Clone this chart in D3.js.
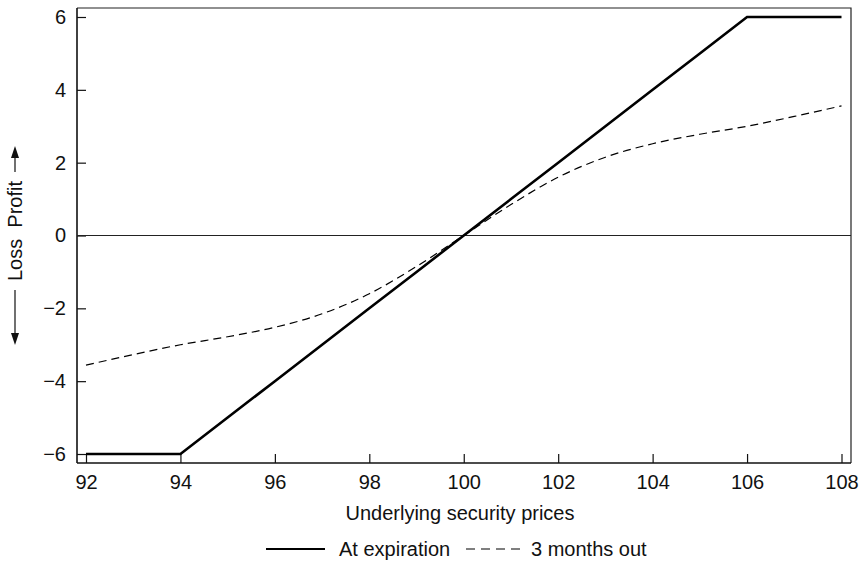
<!DOCTYPE html>
<html>
<head>
<meta charset="utf-8">
<script src="https://cdn.jsdelivr.net/npm/d3@7/dist/d3.min.js"></script>
<style>
  html, body { margin: 0; padding: 0; background: #fff; }
  svg text { font-family: "Liberation Sans", Arial, Helvetica, sans-serif; fill: #111; }
</style>
</head>
<body>
<svg id="chart" width="865" height="561"></svg>
<script>
// Underlying price grid
const prices = [92, 93, 94, 95, 96, 97, 98, 99, 100, 101, 102, 103, 104, 105, 106, 107, 108];
// Profit/loss at expiration (capped at ±6)
const atExpiration = [-6, -6, -6, -5, -4, -3, -2, -1, 0, 1, 2, 3, 4, 5, 6, 6, 6];
// Profit/loss three months before expiration
const threeMonthsOut = [-3.56, -3.27, -3.0, -2.78, -2.52, -2.15, -1.6, -0.85, 0, 0.85, 1.6, 2.15, 2.52, 2.78, 3.0, 3.27, 3.56];

const xTicks = [92, 94, 96, 98, 100, 102, 104, 106, 108];
const yTicks = [-6, -4, -2, 0, 2, 4, 6];

const svg = d3.select("#chart");
const frame = { left: 77, right: 851, top: 8, bottom: 463 };
const fontSize = "20px";

const x = d3.scaleLinear().domain([92, 108]).range([86, 841.5]);
const y = d3.scaleLinear().domain([-6, 6]).range([454, 17]);

const fmt = d => (d < 0 ? "\u2212" + Math.abs(d) : String(d));

// Frame: top and right edges
svg.append("path")
  .attr("d", `M${frame.left},${frame.top}H${frame.right}V${frame.bottom}`)
  .attr("fill", "none").attr("stroke", "#222").attr("stroke-width", 1.2);

// Bottom axis with inward ticks
const xAxis = svg.append("g")
  .attr("transform", `translate(0,${frame.bottom})`)
  .call(d3.axisBottom(x).tickValues(xTicks).tickSize(-9).tickSizeOuter(0).tickFormat(fmt));
xAxis.select(".domain").attr("d", `M${frame.left},0H${frame.right}`).attr("stroke", "#111").attr("stroke-width", 1.6);
xAxis.selectAll(".tick line").attr("stroke", "#111").attr("stroke-width", 1.2);
xAxis.selectAll(".tick text").attr("y", 12).attr("dy", "0.71em")
  .style("font-size", fontSize);

// Left axis with inward ticks
const yAxis = svg.append("g")
  .attr("transform", `translate(${frame.left},0)`)
  .call(d3.axisLeft(y).tickValues(yTicks).tickSize(-9).tickSizeOuter(0).tickFormat(fmt));
yAxis.select(".domain").attr("d", `M0,${frame.top}V${frame.bottom}`).attr("stroke", "#111").attr("stroke-width", 1.6);
yAxis.selectAll(".tick line").attr("stroke", "#111").attr("stroke-width", 1.2);
yAxis.selectAll(".tick text").attr("x", -11).style("font-size", fontSize);

// Break-even line
svg.append("line")
  .attr("x1", frame.left).attr("x2", frame.right)
  .attr("y1", y(0)).attr("y2", y(0))
  .attr("stroke", "#222").attr("stroke-width", 1.1);

// Payoff lines
const expLine = d3.line().x((d, i) => x(prices[i])).y(d => y(d));
svg.append("path")
  .datum(atExpiration)
  .attr("d", expLine)
  .attr("fill", "none").attr("stroke", "#000").attr("stroke-width", 2.6)
  .attr("stroke-linejoin", "miter");

const outLine = d3.line().x((d, i) => x(prices[i])).y(d => y(d)).curve(d3.curveMonotoneX);
svg.append("path")
  .datum(threeMonthsOut)
  .attr("d", outLine)
  .attr("fill", "none").attr("stroke", "#000").attr("stroke-width", 1.2)
  .attr("stroke-dasharray", "8,5");

// X axis title
svg.append("text")
  .attr("x", (frame.left + frame.right) / 2 - 4).attr("y", 520)
  .attr("text-anchor", "middle").style("font-size", fontSize)
  .text("Underlying security prices");

// Y axis title: "Loss  Profit" with direction arrows
const yl = svg.append("g").attr("transform", "translate(15,231) rotate(-90)");
yl.append("text").attr("x", 0).attr("y", 0).attr("dy", "0.35em")
  .attr("text-anchor", "middle").style("font-size", fontSize)
  .attr("xml:space", "preserve")
  .text("Loss  Profit");
// up arrow (profit)
yl.append("line").attr("x1", 59).attr("x2", 78).attr("y1", 0).attr("y2", 0)
  .attr("stroke", "#111").attr("stroke-width", 1.2);
yl.append("path").attr("d", "M85,0L73,-4L73,4Z").attr("fill", "#111");
// down arrow (loss)
yl.append("line").attr("x1", -59).attr("x2", -106).attr("y1", 0).attr("y2", 0)
  .attr("stroke", "#111").attr("stroke-width", 1.2);
yl.append("path").attr("d", "M-114,0L-102,-4L-102,4Z").attr("fill", "#111");

// Legend
const legend = svg.append("g").attr("transform", "translate(0,549)");
legend.append("line").attr("x1", 266).attr("x2", 325).attr("y1", 0).attr("y2", 0)
  .attr("stroke", "#000").attr("stroke-width", 2.2);
legend.append("text").attr("x", 339).attr("y", 0).attr("dy", "0.35em")
  .style("font-size", fontSize).text("At expiration");
legend.append("line").attr("x1", 466).attr("x2", 524).attr("y1", 0).attr("y2", 0)
  .attr("stroke", "#000").attr("stroke-width", 1.2).attr("stroke-dasharray", "9,6");
legend.append("text").attr("x", 531).attr("y", 0).attr("dy", "0.35em")
  .style("font-size", fontSize).text("3 months out");
</script>
</body>
</html>
